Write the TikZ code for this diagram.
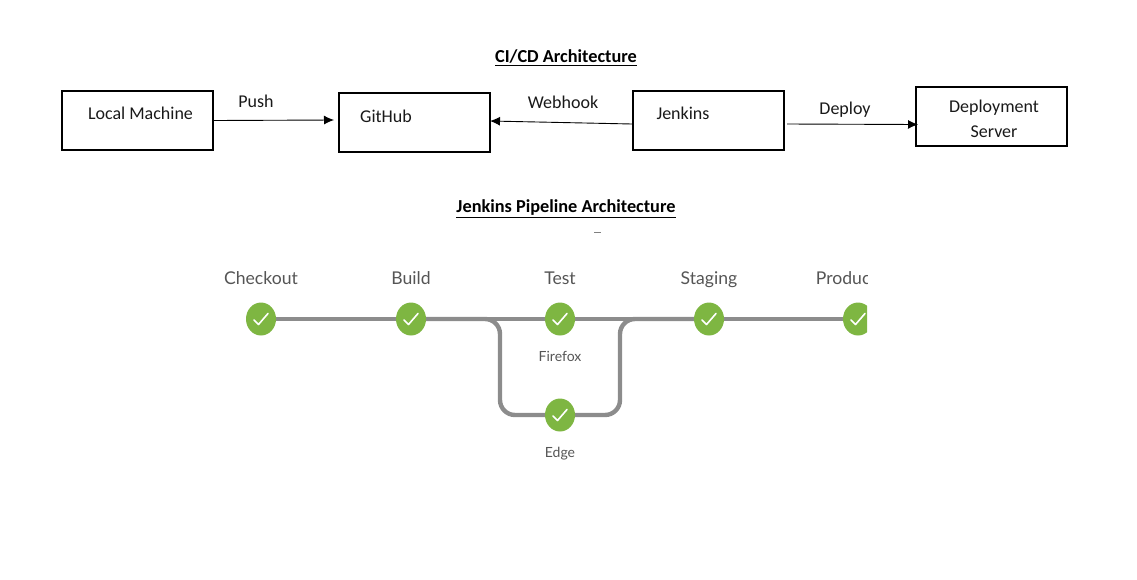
\documentclass[tikz,border=0pt]{standalone}
\usepackage{fontspec}
\setmainfont{Carlito}
\newfontfamily\pipefont{Lato}
\usetikzlibrary{arrows.meta,backgrounds,shapes.geometric,calc}
\definecolor{pipegreen}{HTML}{7EB642}
\definecolor{pipegrey}{HTML}{8C8C8C}
\definecolor{pipetext}{HTML}{555555}
\tikzset{
  archbox/.style={draw=black,line width=2pt,minimum width=151pt,minimum height=59pt,inner sep=0pt},
  txt/.style={inner sep=0pt,anchor=base,font=\fontsize{18}{20}\selectfont,text=black!90},
  headtxt/.style={inner sep=0pt,anchor=base,font=\fontsize{18.3}{20}\selectfont\bfseries,text=black},
  flow/.style={draw=black,line width=0.9pt,-{Latex[length=10pt,width=9pt]}},
  stage/.style={ellipse,fill=pipegreen,minimum width=30pt,minimum height=33pt,inner sep=0pt},
  tick/.style={draw=white,line width=1.6pt,line cap=round,line join=round},
  stagetxt/.style={inner sep=0pt,anchor=base,text=pipetext,font=\pipefont\fontsize{17.6}{20}\selectfont},
  subtxt/.style={inner sep=0pt,anchor=base,text=pipetext,font=\pipefont\fontsize{14}{16}\selectfont},
  pipe/.style={draw=pipegrey,line width=4.4pt},
}
\newcommand{\tickmark}[1]{\draw[tick] ($(#1)+(-7,1)$) -- ($(#1)+(-2.5,5.5)$) -- ($(#1)+(7,-5.5)$);}
\begin{document}
\begin{tikzpicture}[x=1pt,y=-1pt]
\useasboundingbox (0,0) rectangle (1137,579);
\node[headtxt] (h1) at (566,62.5) {\underline{CI/CD Architecture}};
\node[headtxt] (h2) at (566,212.5) {\underline{Jenkins Pipeline Architecture}};
\node[archbox] (lm) at (137.5,120.5) {};
\node[archbox] (gh) at (414.5,122.5) {};
\node[archbox] (jk) at (708.5,120.5) {};
\node[archbox] (ds) at (991.5,116.5) {};
\node[txt] (lmt) at (140.5,119) {Local Machine};
\node[txt] (ght) at (386,122) {GitHub};
\node[txt] (jkt) at (683,119) {Jenkins};
\node[txt] (dst1) at (994,112.5) {Deployment};
\node[txt] (dst2) at (994,137) {Server};
\node[txt] (pusht) at (256,107) {Push};
\node[txt] (webt) at (563,108) {Webhook};
\node[txt] (dept) at (845,114) {Deploy};
\draw[flow] (lm.east) -- ($(gh.west)+(-4,-2.5)$);
\draw[flow] ($(jk.west)+(0,3.5)$) -- ($(gh.east)+(-1,-1.5)$);
\draw[flow] ($(jk.east)+(2,3.5)$) -- ($(ds.west)+(3,8)$);
% pipeline
\node[stage] (s1) at (261,319) {};
\node[stage] (s2) at (411,319) {};
\node[stage] (s3) at (560,319) {};
\node[stage] (s4) at (709,319) {};
\node[stage] (s6) at (560,415) {};
\coordinate (bl) at (500,415);
\coordinate (br) at (620,415);
\begin{scope}
\clip (0,0) rectangle (867,579);
\node[stage] (s5) at (858,319) {};
\draw[tick] (851,320) -- (855.5,324.5) -- (865,313.5);
\node[stagetxt] (t5) at (858.5,284) {Production};
\end{scope}
\begin{scope}[on background layer]
\draw[pipe] (s1.center) -- (s5.center);
\draw[pipe,rounded corners=15pt] (s2.center) -| (bl) -- (br) |- (s4.center);
\end{scope}
\foreach \n in {s1,s2,s3,s4,s6} {\tickmark{\n}}
\node[stagetxt] (t1) at (261,284) {Checkout};
\node[stagetxt] (t2) at (411,284) {Build};
\node[stagetxt] (t3) at (560,284) {Test};
\node[stagetxt] (t4) at (709,284) {Staging};
\node[subtxt] (t6) at (560,361) {Firefox};
\node[subtxt] (t7) at (560,457) {Edge};
\coordinate (m1) at (594,232);
\coordinate (m2) at (601,232);
\draw[draw=gray,line width=0.8pt] (m1) -- (m2);
\end{tikzpicture}
\end{document}
